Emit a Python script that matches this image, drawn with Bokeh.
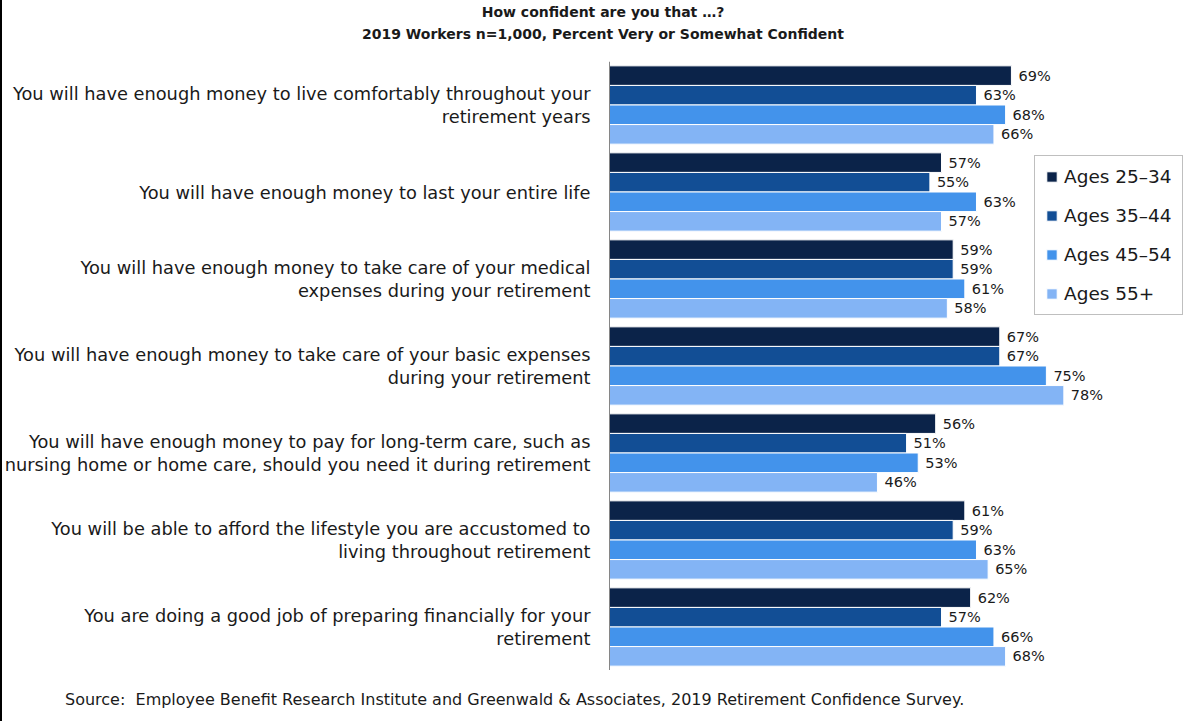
from bokeh.plotting import figure
from bokeh.models import ColumnDataSource, Range1d, FactorRange, Span, Legend, LegendItem, Div
from bokeh.layouts import column
from bokeh.transform import dodge
from bokeh.core.properties import value
from bokeh.embed import file_html
from bokeh.resources import INLINE

keys = ["Q1", "Q2", "Q3", "Q4", "Q5", "Q6", "Q7"]
questions = [
    "You will have enough money to live comfortably throughout your\nretirement years",
    "You will have enough money to last your entire life",
    "You will have enough money to take care of your medical\nexpenses during your retirement",
    "You will have enough money to take care of your basic expenses\nduring your retirement",
    "You will have enough money to pay for long-term care, such as\nnursing home or home care, should you need it during retirement",
    "You will be able to afford the lifestyle you are accustomed to\nliving throughout retirement",
    "You are doing a good job of preparing financially for your\nretirement",
]
series_names = ["Ages 25\u201334", "Ages 35\u201344", "Ages 45\u201354", "Ages 55+"]
ages_25_34 = [69, 57, 59, 67, 56, 61, 62]
ages_35_44 = [63, 55, 59, 67, 51, 59, 57]
ages_45_54 = [68, 63, 61, 75, 53, 63, 66]
ages_55_up = [66, 57, 58, 78, 46, 65, 68]
series_values = [ages_25_34, ages_35_44, ages_45_54, ages_55_up]
colors = ["#0b2349", "#124e95", "#4393eb", "#83b4f5"]
offsets = [0.3375, 0.1125, -0.1125, -0.3375]

title1 = "How confident are you that \u2026?"
title2 = "2019 Workers n=1,000, Percent Very or Somewhat Confident"
source_note = "Source:&nbsp; Employee Benefit Research Institute and Greenwald &amp; Associates, 2019 Retirement Confidence Survey."

FONT = "DejaVu Sans"
W = 1191
HEADER_H = 61
FOOTER_H = 51
PLOT_H = 721 - HEADER_H - FOOTER_H
px_per_pct = 5.825
axis_px = 607

header = Div(
    text=(f'<div style="box-sizing:border-box;width:{W}px;padding:1px 0 0 11px;text-align:center;'
          f'font-family:\'{FONT}\';font-weight:bold;font-size:14px;line-height:22px;color:#1a1a1a;">'
          f'{title1}<br>{title2}</div>'),
    width=W, height=HEADER_H, margin=0)

footer = Div(
    text=(f'<div style="box-sizing:border-box;width:{W}px;padding:20px 0 0 63px;text-align:left;'
          f'font-family:\'{FONT}\';font-size:16px;line-height:20px;color:#1a1a1a;white-space:nowrap;">'
          f'{source_note}</div>'),
    width=W, height=FOOTER_H, margin=0)

p = figure(width=W, height=PLOT_H, output_backend="svg", toolbar_location=None,
           x_range=Range1d(-axis_px / px_per_pct, (W - axis_px) / px_per_pct),
           y_range=FactorRange(factors=keys[::-1]),
           min_border_left=0, min_border_right=0,
           min_border_top=0, min_border_bottom=0)
p.xaxis.visible = False
p.yaxis.visible = False
p.xgrid.grid_line_color = None
p.ygrid.grid_line_color = None
p.outline_line_color = None
p.background_fill_color = "white"
p.border_fill_color = "white"

items = []
for name, vals, col, off in zip(series_names, series_values, colors, offsets):
    src = ColumnDataSource(dict(y=keys, v=vals, lbl=[f"{v}%" for v in vals]))
    r = p.hbar(y=dodge("y", off, range=p.y_range), left=0, right="v", height=0.225,
               fill_color=col, line_color="white", line_width=1, source=src)
    p.text(x="v", y=dodge("y", off, range=p.y_range), text="lbl", source=src,
           x_offset=7, text_align="left", text_baseline="middle",
           text_font=value(FONT), text_font_size="14.5px", text_color="#1a1a1a")
    items.append(LegendItem(label=name, renderers=[r]))

qsrc = ColumnDataSource(dict(y=keys, t=questions, x=[0] * len(keys)))
p.text(x="x", y="y", text="t", source=qsrc, x_offset=-19, text_align="right",
       text_baseline="middle", text_font=value(FONT), text_font_size="17.8px",
       text_color="#1a1a1a", text_line_height=1.12)

p.add_layout(Span(location=0, dimension="height", line_color="#868686", line_width=1))

legend = Legend(items=items, location=(1032, PLOT_H - (315 - HEADER_H)),
                label_text_font=FONT, label_text_font_size="18.5px", label_text_color="#1a1a1a",
                glyph_width=13, glyph_height=13, label_height=20, spacing=18, padding=10,
                label_standoff=6, border_line_color="#7f7f7f", border_line_width=1,
                background_fill_color="white", background_fill_alpha=1)
p.add_layout(legend)

layout = column(header, p, footer, spacing=0, styles={"border-left": "2px solid black"})
open("out.html", "w").write(file_html(layout, INLINE))
